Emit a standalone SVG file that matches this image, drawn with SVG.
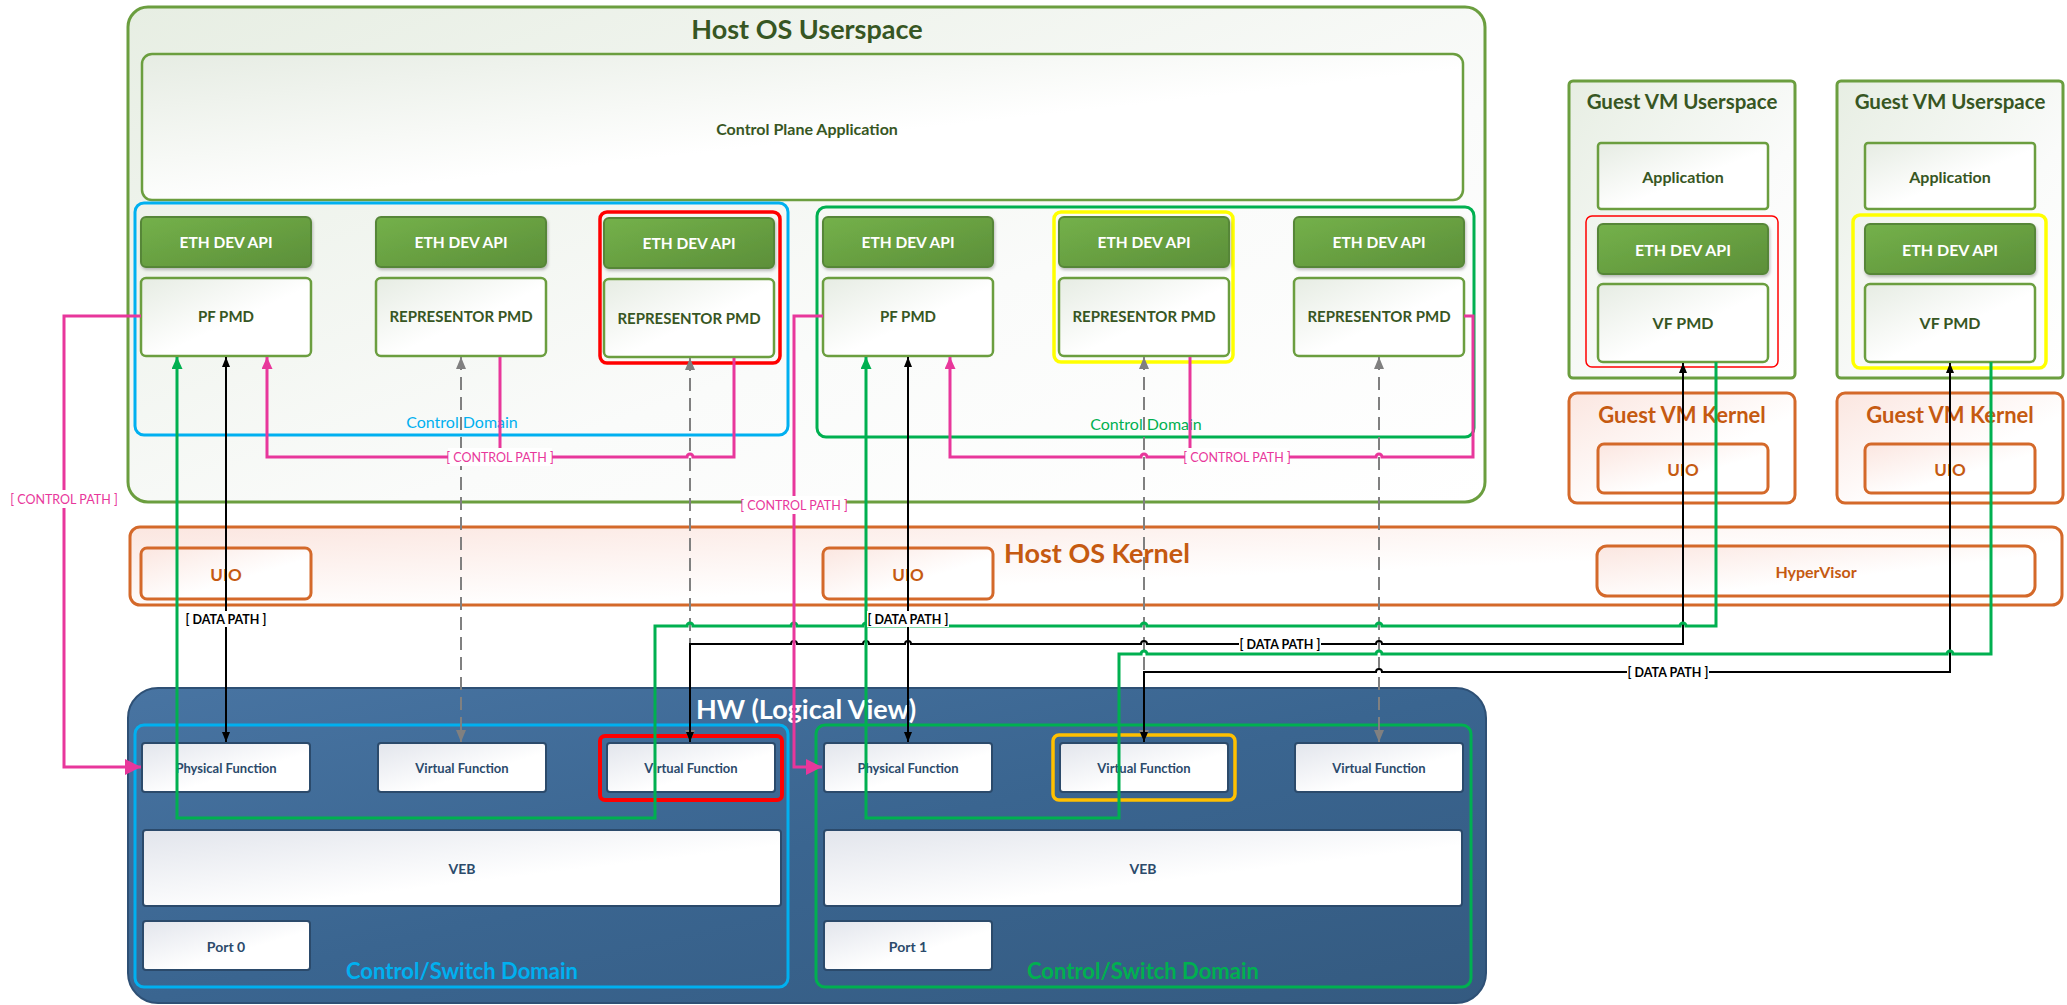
<svg xmlns="http://www.w3.org/2000/svg" width="2067" height="1005" viewBox="0 0 2067 1005">
<defs>
<linearGradient id="gUser" x1="0" y1="0" x2="1" y2="1"><stop offset="0" stop-color="#E7EEE3"/><stop offset="0.6" stop-color="#FAFBFA"/><stop offset="1" stop-color="#FFFFFF"/></linearGradient>
<linearGradient id="gBox" x1="0" y1="0" x2="1" y2="1"><stop offset="0" stop-color="#E6ECE3"/><stop offset="0.55" stop-color="#FFFFFF"/></linearGradient>
<linearGradient id="gEth" x1="0" y1="0" x2="1" y2="1"><stop offset="0" stop-color="#74B14A"/><stop offset="1" stop-color="#5C8F39"/></linearGradient>
<linearGradient id="gKern" x1="0" y1="0" x2="1" y2="1"><stop offset="0" stop-color="#FBE6E0"/><stop offset="0.6" stop-color="#FFFFFF"/></linearGradient>
<linearGradient id="gHW" x1="0" y1="0" x2="1" y2="1"><stop offset="0" stop-color="#4874A2"/><stop offset="0.5" stop-color="#3A6590"/><stop offset="1" stop-color="#345A80"/></linearGradient>
<linearGradient id="gFn" x1="0" y1="0" x2="1" y2="1"><stop offset="0" stop-color="#E2E5EC"/><stop offset="0.6" stop-color="#FFFFFF"/></linearGradient>
<filter id="sh" x="-10%" y="-10%" width="130%" height="140%"><feDropShadow dx="1" dy="2" stdDeviation="1.5" flood-color="#000" flood-opacity="0.25"/></filter>
<marker id="aBlk" markerUnits="userSpaceOnUse" markerWidth="10" markerHeight="8" refX="10" refY="4" orient="auto-start-reverse"><path d="M0,0 L10,4 L0,8 z" fill="#000"/></marker>
<marker id="aGry" markerUnits="userSpaceOnUse" markerWidth="12" markerHeight="10" refX="12" refY="5" orient="auto-start-reverse"><path d="M0,0 L12,5 L0,10 z" fill="#808080"/></marker>
<marker id="aGrn" markerUnits="userSpaceOnUse" markerWidth="12" markerHeight="11" refX="12" refY="5.5" orient="auto"><path d="M0,0 L12,5.5 L0,11 z" fill="#00B050"/></marker>
<marker id="aPnk" markerUnits="userSpaceOnUse" markerWidth="12" markerHeight="11" refX="12" refY="5.5" orient="auto"><path d="M0,0 L12,5.5 L0,11 z" fill="#E8379B"/></marker>
<marker id="aPnkB" markerUnits="userSpaceOnUse" markerWidth="16" markerHeight="16" refX="16" refY="8" orient="auto"><path d="M0,0 L16,8 L0,16 z" fill="#E8379B"/></marker>
</defs>
<style>
text{font-family:Lato,"Liberation Sans",sans-serif;dominant-baseline:central;text-anchor:middle}
.ctr{fill:url(#gUser);stroke:#6B9E3F;stroke-width:3}
.bx{fill:url(#gBox);stroke:#6B9E3F;stroke-width:2.5}
.eth{fill:url(#gEth);stroke:#578638;stroke-width:2;filter:url(#sh)}
.krn{fill:url(#gKern);stroke:#D4692A;stroke-width:3}
.hw{fill:url(#gHW);stroke:#2E5075;stroke-width:2}
.fn{fill:url(#gFn);stroke:#2B4A6B;stroke-width:2}
.dom-c{fill:none;stroke:#00B0F0;stroke-width:3}
.dom-g{fill:none;stroke:#00B050;stroke-width:3}
.t-big{font-size:27px;font-weight:bold;fill:#375623}
.t-vm{font-size:20.5px;font-weight:bold;fill:#375623}
.t-g{font-size:15px;font-weight:bold;fill:#375623}
.t-w{font-size:15.5px;font-weight:bold;fill:#FFFFFF}
.t-o{font-weight:bold;fill:#C55A11}
.t-fn{font-size:13px;fill:#2B4A6B;font-weight:bold}
.t-dc{font-size:16px;fill:#00B0F0}
.t-dg{font-size:16px;fill:#00B050}
.conn{fill:none}
.pk{stroke:#E8379B;stroke-width:3}
.gn{stroke:#00B050;stroke-width:3}
.bk{stroke:#000;stroke-width:2}
.gy{stroke:#808080;stroke-width:2;stroke-dasharray:13 7}
.lbl-bg{fill:#FFFFFF}
.t-cp{font-size:12.5px;fill:#E8379B}
.t-dp{font-size:12.5px;font-weight:bold;fill:#000}
</style>

<!-- Host OS Userspace -->
<g id="host-userspace">
<rect class="ctr" x="128" y="7" width="1357" height="495" rx="20"/>
<text class="t-big" x="807" y="28">Host OS Userspace</text>
</g>
<g id="control-plane-app">
<rect class="bx" x="142" y="54" width="1321" height="146" rx="10"/>
<text class="t-g" x="807" y="128" style="font-size:16px">Control Plane Application</text>
</g>
<g id="control-domain-left">
<rect class="dom-c" x="135" y="203" width="653" height="232" rx="9"/>
<text class="t-dc" x="462" y="421">Control Domain</text>
</g>
<g id="control-domain-right">
<rect class="dom-g" x="817" y="207" width="657" height="230" rx="9"/>
<text class="t-dg" x="1146" y="423">Control Domain</text>
</g>

<g id="eth1"><rect class="eth" x="141" y="217" width="170" height="50" rx="5"/><text class="t-w" x="226" y="242">ETH DEV API</text></g>
<g id="pfpmd1"><rect class="bx" x="141" y="278" width="170" height="78" rx="5"/><text class="t-g" x="226" y="316">PF PMD</text></g>
<g id="eth2"><rect class="eth" x="376" y="217" width="170" height="50" rx="5"/><text class="t-w" x="461" y="242">ETH DEV API</text></g>
<g id="rep1"><rect class="bx" x="376" y="278" width="170" height="78" rx="5"/><text class="t-g" x="461" y="316">REPRESENTOR PMD</text></g>
<g id="rep2-group">
<rect x="600" y="212" width="180" height="151" rx="7" fill="none" stroke="#FF0000" stroke-width="3.5"/>
<g id="eth3"><rect class="eth" x="604" y="218" width="170" height="50" rx="5"/><text class="t-w" x="689" y="243">ETH DEV API</text></g>
<g id="rep2"><rect class="bx" x="604" y="279" width="170" height="78" rx="5"/><text class="t-g" x="689" y="318">REPRESENTOR PMD</text></g>
</g>

<g id="eth4"><rect class="eth" x="823" y="217" width="170" height="50" rx="5"/><text class="t-w" x="908" y="242">ETH DEV API</text></g>
<g id="pfpmd2"><rect class="bx" x="823" y="278" width="170" height="78" rx="5"/><text class="t-g" x="908" y="316">PF PMD</text></g>
<g id="rep3-group">
<rect x="1054" y="212" width="179" height="150" rx="7" fill="none" stroke="#FFFF00" stroke-width="3.5"/>
<g id="eth5"><rect class="eth" x="1059" y="217" width="170" height="50" rx="5"/><text class="t-w" x="1144" y="242">ETH DEV API</text></g>
<g id="rep3"><rect class="bx" x="1059" y="278" width="170" height="78" rx="5"/><text class="t-g" x="1144" y="316">REPRESENTOR PMD</text></g>
</g>
<g id="eth6"><rect class="eth" x="1294" y="217" width="170" height="50" rx="5"/><text class="t-w" x="1379" y="242">ETH DEV API</text></g>
<g id="rep4"><rect class="bx" x="1294" y="278" width="170" height="78" rx="5"/><text class="t-g" x="1379" y="316">REPRESENTOR PMD</text></g>

<!-- Guest VM 1 -->
<g id="guest1-userspace">
<rect class="ctr" x="1569" y="81" width="226" height="297" rx="4"/>
<text class="t-vm" x="1682" y="101">Guest VM Userspace</text>
</g>
<g id="guest1-app"><rect class="bx" x="1598" y="143" width="170" height="66" rx="3"/><text class="t-g" x="1683" y="176" style="font-size:16px">Application</text></g>
<g id="guest1-vf">
<rect x="1586" y="216" width="192" height="151" rx="6" fill="none" stroke="#FF0000" stroke-width="1.5"/>
<g id="guest1-eth"><rect class="eth" x="1598" y="224" width="170" height="50" rx="5"/><text class="t-w" x="1683" y="249" style="font-size:16px">ETH DEV API</text></g>
<g id="guest1-vfpmd"><rect class="bx" x="1598" y="284" width="170" height="78" rx="5"/><text class="t-g" x="1683" y="322" style="font-size:16px">VF PMD</text></g>
</g>
<g id="guest1-kernel">
<rect class="krn" x="1569" y="393" width="226" height="110" rx="8"/>
<text class="t-o" x="1682" y="414" style="font-size:22px">Guest VM Kernel</text>
</g>
<g id="guest1-uio"><rect class="krn" x="1598" y="444" width="170" height="49" rx="6"/><text class="t-o" x="1683" y="469" style="font-size:17px">UIO</text></g>

<!-- Guest VM 2 -->
<g id="guest2-userspace">
<rect class="ctr" x="1837" y="81" width="226" height="297" rx="4"/>
<text class="t-vm" x="1950" y="101">Guest VM Userspace</text>
</g>
<g id="guest2-app"><rect class="bx" x="1865" y="143" width="170" height="66" rx="3"/><text class="t-g" x="1950" y="176" style="font-size:16px">Application</text></g>
<g id="guest2-vf">
<rect x="1853" y="215" width="193" height="153" rx="7" fill="none" stroke="#FFFF00" stroke-width="3.5"/>
<g id="guest2-eth"><rect class="eth" x="1865" y="224" width="170" height="50" rx="5"/><text class="t-w" x="1950" y="249" style="font-size:16px">ETH DEV API</text></g>
<g id="guest2-vfpmd"><rect class="bx" x="1865" y="284" width="170" height="78" rx="5"/><text class="t-g" x="1950" y="322" style="font-size:16px">VF PMD</text></g>
</g>
<g id="guest2-kernel">
<rect class="krn" x="1837" y="393" width="226" height="110" rx="8"/>
<text class="t-o" x="1950" y="414" style="font-size:22px">Guest VM Kernel</text>
</g>
<g id="guest2-uio"><rect class="krn" x="1865" y="444" width="170" height="49" rx="6"/><text class="t-o" x="1950" y="469" style="font-size:17px">UIO</text></g>

<!-- Host OS Kernel -->
<g id="host-kernel">
<rect class="krn" x="130" y="527" width="1932" height="78" rx="10"/>
<text class="t-o" x="1097" y="552" style="font-size:27px">Host OS Kernel</text>
</g>
<g id="uio1"><rect class="krn" x="141" y="548" width="170" height="51" rx="6"/><text class="t-o" x="226" y="574" style="font-size:17px">UIO</text></g>
<g id="uio2"><rect class="krn" x="823" y="548" width="170" height="51" rx="6"/><text class="t-o" x="908" y="574" style="font-size:17px">UIO</text></g>
<g id="hypervisor"><rect class="krn" x="1597" y="546" width="438" height="50" rx="10"/><text class="t-o" x="1816" y="571" style="font-size:16px">HyperVisor</text></g>

<!-- HW -->
<g id="hw">
<rect class="hw" x="128" y="688" width="1358" height="315" rx="30"/>
<text x="806" y="708" style="font-size:27px;font-weight:bold;fill:#FFFFFF">HW (Logical View)</text>
</g>
<g id="switch-domain-left">
<rect class="dom-c" x="135" y="725" width="653" height="262" rx="9"/>
<text x="462" y="970" style="font-size:22px;font-weight:bold;fill:#00B0F0">Control/Switch Domain</text>
</g>
<g id="switch-domain-right">
<rect class="dom-g" x="816" y="725" width="655" height="262" rx="9"/>
<text x="1143" y="970" style="font-size:22px;font-weight:bold;fill:#00B050">Control/Switch Domain</text>
</g>
<g id="pf0"><rect class="fn" x="142" y="743" width="168" height="49" rx="3"/><text class="t-fn" x="226" y="768">Physical Function</text></g>
<g id="vf0a"><rect class="fn" x="378" y="743" width="168" height="49" rx="3"/><text class="t-fn" x="462" y="768">Virtual Function</text></g>
<g id="vf0b">
<rect x="600" y="736" width="182" height="64" rx="5" fill="none" stroke="#FF0000" stroke-width="4"/>
<rect class="fn" x="607" y="743" width="168" height="49" rx="3"/><text class="t-fn" x="691" y="768">Virtual Function</text>
</g>
<g id="veb0"><rect class="fn" x="143" y="830" width="638" height="76" rx="3"/><text class="t-fn" x="462" y="868" style="font-size:14px">VEB</text></g>
<g id="port0"><rect class="fn" x="143" y="921" width="167" height="49" rx="3"/><text class="t-fn" x="226" y="946" style="font-size:14px">Port 0</text></g>

<g id="pf1"><rect class="fn" x="824" y="743" width="168" height="49" rx="3"/><text class="t-fn" x="908" y="768">Physical Function</text></g>
<g id="vf1a">
<rect x="1053" y="735" width="182" height="65" rx="6" fill="none" stroke="#FFC000" stroke-width="3.5"/>
<rect class="fn" x="1060" y="743" width="168" height="49" rx="3"/><text class="t-fn" x="1144" y="768">Virtual Function</text>
</g>
<g id="vf1b"><rect class="fn" x="1295" y="743" width="168" height="49" rx="3"/><text class="t-fn" x="1379" y="768">Virtual Function</text></g>
<g id="veb1"><rect class="fn" x="824" y="830" width="638" height="76" rx="3"/><text class="t-fn" x="1143" y="868" style="font-size:14px">VEB</text></g>
<g id="port1"><rect class="fn" x="824" y="921" width="168" height="49" rx="3"/><text class="t-fn" x="908" y="946" style="font-size:14px">Port 1</text></g>

<!-- Connectors -->
<g id="connectors" class="conn">
<path class="gy" d="M461,357 V742" marker-start="url(#aGry)" marker-end="url(#aGry)"/>
<path class="gy" d="M690,358 V742" marker-start="url(#aGry)" marker-end="url(#aGry)"/>
<path class="gy" d="M1144,357 V742" marker-start="url(#aGry)" marker-end="url(#aGry)"/>
<path class="gy" d="M1379,357 V742" marker-start="url(#aGry)" marker-end="url(#aGry)"/>

<path class="bk" d="M226,357 V742" marker-start="url(#aBlk)" marker-end="url(#aBlk)"/>
<path class="bk" d="M908,357 V742" marker-start="url(#aBlk)" marker-end="url(#aBlk)"/>

<path class="bk" d="M1683,363 V644 H1382 A3,3 0 0 0 1376,644 H1147 A3,3 0 0 0 1141,644 H911 A3,3 0 0 0 905,644 H869 A3,3 0 0 0 863,644 H797 A3,3 0 0 0 791,644 H690 V742" marker-start="url(#aBlk)" marker-end="url(#aBlk)"/>
<path class="bk" d="M1950,363 V672 H1382 A3,3 0 0 0 1376,672 H1144 V742" marker-start="url(#aBlk)" marker-end="url(#aBlk)"/>

<path class="gn" d="M1716,362 V626 H1686 A3,3 0 0 0 1680,626 H1382 A3,3 0 0 0 1376,626 H1147 A3,3 0 0 0 1141,626 H911 A3,3 0 0 0 905,626 H869 A3,3 0 0 0 863,626 H797 A3,3 0 0 0 791,626 H693 A3,3 0 0 0 687,626 H655 V818 H177 V357" marker-end="url(#aGrn)"/>
<path class="gn" d="M1991,362 V654 H1953 A3,3 0 0 0 1947,654 H1382 A3,3 0 0 0 1376,654 H1147 A3,3 0 0 0 1141,654 H1119 V818 H866 V357" marker-end="url(#aGrn)"/>

<path class="pk" d="M500,357 V457"/>
<path class="pk" d="M734,358 V457 H693 A3,3 0 0 0 687,457 H267 V357" marker-end="url(#aPnk)"/>
<path class="pk" d="M1190,357 V457"/>
<path class="pk" d="M1464,316 H1473 V457 H1382 A3,3 0 0 0 1376,457 H1147 A3,3 0 0 0 1141,457 H950 V357" marker-end="url(#aPnk)"/>
<path class="pk" d="M141,316 H64 V767 H141" marker-end="url(#aPnkB)"/>
<path class="pk" d="M823,316 H794 V767 H822" marker-end="url(#aPnkB)"/>

<g id="lbl-cp1"><rect class="lbl-bg" x="12" y="490" width="104" height="18"/><text class="t-cp" x="64" y="499">[ CONTROL PATH ]</text></g>
<g id="lbl-cp2"><rect class="lbl-bg" x="742" y="496" width="104" height="18"/><text class="t-cp" x="794" y="505">[ CONTROL PATH ]</text></g>
<g id="lbl-cp3"><rect class="lbl-bg" x="448" y="448" width="104" height="18"/><text class="t-cp" x="500" y="457">[ CONTROL PATH ]</text></g>
<g id="lbl-cp4"><rect class="lbl-bg" x="1185" y="448" width="104" height="18"/><text class="t-cp" x="1237" y="457">[ CONTROL PATH ]</text></g>
<g id="lbl-dp1"><rect class="lbl-bg" x="185" y="611" width="82" height="16"/><text class="t-dp" x="226" y="619">[ DATA PATH ]</text></g>
<g id="lbl-dp2"><rect class="lbl-bg" x="867" y="611" width="82" height="16"/><text class="t-dp" x="908" y="619">[ DATA PATH ]</text></g>
<g id="lbl-dp3"><rect class="lbl-bg" x="1239" y="636" width="82" height="16"/><text class="t-dp" x="1280" y="644">[ DATA PATH ]</text></g>
<g id="lbl-dp4"><rect class="lbl-bg" x="1627" y="664" width="82" height="16"/><text class="t-dp" x="1668" y="672">[ DATA PATH ]</text></g>
</g>
</svg>
